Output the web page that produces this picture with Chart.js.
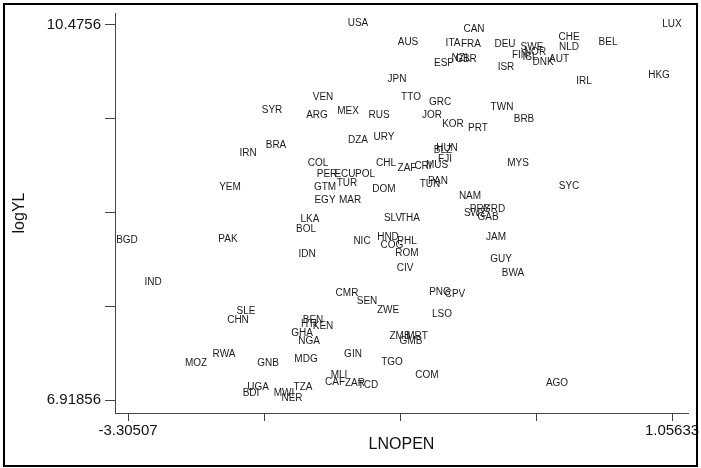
<!DOCTYPE html>
<html>
<head>
<meta charset="utf-8">
<script src="https://cdn.jsdelivr.net/npm/chart.js@4"></script>
<style>
  html, body { margin: 0; padding: 0; background: #fff; }
  #wrap { width: 701px; height: 468px; }
</style>
</head>
<body>
<div id="wrap"><canvas id="scatterChart"></canvas></div>
<script>
// country codes and their (LNOPEN, logYL) values
const codes = ['USA', 'CAN', 'AUS', 'ITA', 'FRA', 'NZL', 'GBR', 'ESP', 'JPN', 'VEN', 'TTO', 'GRC', 'ARG', 'MEX', 'RUS', 'JOR', 'KOR', 'PRT', 'DZA', 'URY',
  'LUX', 'DEU', 'SWE', 'CHE', 'NLD', 'BEL', 'NOR', 'FIN', 'ISL', 'DNK', 'AUT', 'ISR', 'IRL', 'HKG', 'TWN', 'BRB', 'SYR', 'IRN', 'BRA', 'YEM',
  'BGD', 'PAK', 'HUN', 'BLZ', 'FJI', 'COL', 'CHL', 'ZAF', 'CRI', 'MUS', 'PER', 'ECU', 'POL', 'TUR', 'GTM', 'DOM', 'TUN', 'PAN', 'EGY', 'MAR',
  'NAM', 'LKA', 'BOL', 'SLV', 'THA', 'NIC', 'HND', 'PHL', 'COG', 'ROM', 'IDN', 'SWZ', 'PRY', 'GRD', 'GAB', 'JAM', 'MYS', 'SYC', 'GUY', 'BWA',
  'IND', 'SLE', 'CHN', 'RWA', 'MOZ', 'GNB', 'CIV', 'CMR', 'SEN', 'PNG', 'CPV', 'ZWE', 'LSO', 'BEN', 'HTI', 'KEN', 'GHA', 'NGA', 'ZMB', 'MRT',
  'GMB', 'MDG', 'GIN', 'TGO', 'MLI', 'CAF', 'ZAR', 'TCD', 'COM', 'TZA', 'NER', 'UGA', 'BDI', 'MWI', 'AGO'];

const lnOpen = [-1.4611, -0.5311, -1.0602, -0.6994, -0.5551, -0.6353, -0.5952, -0.7716, -1.1484, -1.7417, -1.0362, -0.8037, -1.7898, -1.5413, -1.2927, -0.8678, -0.6994, -0.4990, -1.4611, -1.2526,
  1.0563, -0.2826, -0.0661, 0.2306, 0.2306, 0.5432, -0.0420, -0.1623, -0.0821, 0.0221, 0.1504, -0.2745, 0.3508, 0.9521, -0.3066, -0.1302, -2.1506, -2.3430, -2.1185, -2.4873,
  -3.3131, -2.5033, -0.7476, -0.7796, -0.7636, -1.7818, -1.2366, -1.0682, -0.9400, -0.8277, -1.7096, -1.5653, -1.4050, -1.5493, -1.7257, -1.2526, -0.8838, -0.8197, -1.7257, -1.5252,
  -0.5632, -1.8459, -1.8780, -1.1805, -1.0442, -1.4290, -1.2206, -1.0682, -1.1885, -1.0682, -1.8700, -0.5231, -0.4830, -0.3707, -0.4188, -0.3547, -0.1783, 0.2306, -0.3146, -0.2184,
  -3.1046, -2.3590, -2.4232, -2.5354, -2.7599, -2.1827, -1.0843, -1.5493, -1.3889, -0.8037, -0.6834, -1.2206, -0.7876, -1.8219, -1.8539, -1.7417, -1.9101, -1.8539, -1.1244, -0.9881,
  -1.0362, -1.8780, -1.5012, -1.1885, -1.6134, -1.6455, -1.4851, -1.3809, -0.9079, -1.9020, -1.9902, -2.2628, -2.3189, -2.0544, 0.1344];

const logYL = [10.4946, 10.4377, 10.3144, 10.3049, 10.2954, 10.1626, 10.1531, 10.1152, 9.9634, 9.7927, 9.7927, 9.7453, 9.6220, 9.6599, 9.6220, 9.6220, 9.5366, 9.4986, 9.3848, 9.4133,
  10.4851, 10.2954, 10.2669, 10.3618, 10.2669, 10.3144, 10.2195, 10.1911, 10.1721, 10.1247, 10.1531, 10.0772, 9.9444, 10.0014, 9.6978, 9.5840, 9.6694, 9.2615, 9.3374, 8.9390,
  8.4363, 8.4458, 9.3089, 9.2900, 9.2046, 9.1667, 9.1667, 9.1192, 9.1382, 9.1477, 9.0623, 9.0623, 9.0623, 8.9770, 8.9390, 8.9201, 8.9675, 8.9959, 8.8157, 8.8157,
  8.8537, 8.6355, 8.5407, 8.6450, 8.6450, 8.4268, 8.4648, 8.4268, 8.3889, 8.3130, 8.3035, 8.6924, 8.7304, 8.7304, 8.6545, 8.4648, 9.1667, 8.9485, 8.2561, 8.1233,
  8.0380, 7.7629, 7.6775, 7.3550, 7.2697, 7.2697, 8.1707, 7.9336, 7.8577, 7.9431, 7.9241, 7.7724, 7.7344, 7.6775, 7.6396, 7.6206, 7.5542, 7.4783, 7.5258, 7.5258,
  7.4783, 7.3076, 7.3550, 7.2792, 7.1559, 7.0895, 7.0800, 7.0610, 7.1559, 7.0420, 6.9377, 7.0420, 6.9851, 6.9851, 7.0800];

// axis ticks: only the ends carry a label
const xTicks = [-3.30507, -2.21472, -1.12437, -0.03402, 1.05633];
const yTicks = [6.91856, 7.80782, 8.69708, 9.58634, 10.4756];
const xLabels = ['-3.30507', '', '', '', '1.05633'];
const yLabels = ['6.91856', '', '', '', '10.4756'];

const points = lnOpen.map((x, i) => ({ x: x, y: logYL[i] }));

// draws each country code centred on its point
const codeLabels = {
  id: 'codeLabels',
  afterDatasetsDraw(chart) {
    const ctx = chart.ctx;
    const meta = chart.getDatasetMeta(0);
    ctx.save();
    ctx.font = '10px "Liberation Sans", Arial, sans-serif';
    ctx.fillStyle = '#1a1a1a';
    ctx.textAlign = 'center';
    ctx.textBaseline = 'middle';
    meta.data.forEach((el, i) => {
      ctx.fillText(codes[i], el.x, el.y);
    });
    ctx.restore();
  }
};

// frame round the whole picture
const outerFrame = {
  id: 'outerFrame',
  afterDraw(chart) {
    const ctx = chart.ctx;
    ctx.save();
    ctx.strokeStyle = '#000';
    ctx.lineWidth = 2;
    ctx.strokeRect(4, 4, chart.width - 8, chart.height - 6);
    ctx.restore();
  }
};

const tickFont = { family: '"Liberation Sans", Arial, sans-serif', size: 15 };
const titleFont = { family: '"Liberation Sans", Arial, sans-serif', size: 16 };

const ctx = document.getElementById('scatterChart').getContext('2d');
const scatterChart = new Chart(ctx, {
  type: 'scatter',
  data: {
    datasets: [
      {
        data: points,
        pointRadius: 0,
        pointHoverRadius: 0,
        showLine: false
      }
    ]
  },
  options: {
    responsive: true,
    maintainAspectRatio: false,
    animation: false,
    layout: { padding: { top: 13, right: 13, left: 0, bottom: 0 } },
    plugins: {
      legend: { display: false },
      tooltip: { enabled: false }
    },
    scales: {
      x: {
        type: 'linear',
        min: -3.4093,
        max: 1.1846,
        afterBuildTicks: (scale) => { scale.ticks = xTicks.map(v => ({ value: v })); },
        afterFit: (scale) => { scale.height = 55; },
        ticks: {
          autoSkip: false,
          maxRotation: 0,
          padding: 1,
          color: '#111',
          font: tickFont,
          callback: (value, index) => xLabels[index]
        },
        grid: { drawOnChartArea: false, drawTicks: true, tickLength: 8, color: '#444' },
        border: { display: true, color: '#444', width: 1 },
        title: { display: true, text: 'LNOPEN', color: '#111', font: titleFont, padding: { top: 0, bottom: 14 } }
      },
      y: {
        type: 'linear',
        min: 6.7954,
        max: 10.5894,
        afterBuildTicks: (scale) => { scale.ticks = yTicks.map(v => ({ value: v })); },
        afterFit: (scale) => { scale.width = 115; },
        ticks: {
          autoSkip: false,
          padding: 4,
          color: '#111',
          font: tickFont,
          callback: (value, index) => yLabels[index]
        },
        grid: { drawOnChartArea: false, drawTicks: true, tickLength: 10, color: '#444' },
        border: { display: true, color: '#444', width: 1 },
        title: { display: true, text: 'logYL', color: '#111', font: titleFont, padding: { top: 10, bottom: 0 } }
      }
    }
  },
  plugins: [codeLabels, outerFrame]
});
</script>
</body>
</html>
